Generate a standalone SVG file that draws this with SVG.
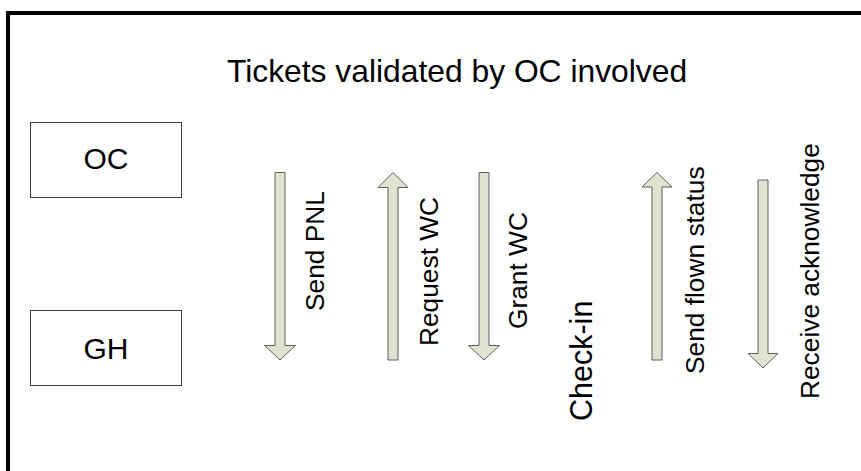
<svg xmlns="http://www.w3.org/2000/svg" width="861" height="471" viewBox="0 0 861 471">
<style>
text{font-family:"Liberation Sans",Arial,sans-serif;fill:#000}
.box{fill:#fff;stroke:#404040;stroke-width:1}
.arr{fill:#dfe3cf;stroke:#5f5f5f;stroke-width:1}
.lbl{font-size:26.3px}
.node{font-size:30px;text-anchor:middle}
</style>
<rect width="861" height="471" fill="#fff"/>
<path d="M8,471 V13 H861" fill="none" stroke="#000" stroke-width="4"/>
<text id="title" x="227" y="82" font-size="31.8">Tickets validated by OC involved</text>
<g id="OC"><rect class="box" x="30.5" y="122.5" width="151" height="75"/><text class="node" x="106" y="169">OC</text></g>
<g id="GH"><rect class="box" x="30.5" y="310.5" width="151" height="75"/><text class="node" x="106" y="359">GH</text></g>
<g id="connectors">
<g id="send-pnl"><path class="arr" d="M275,172.5 H285 V345.5 H295.5 L280,360 L264.5,345.5 H275 Z"/><text class="lbl" transform="translate(324,311) rotate(-90)">Send PNL</text></g>
<g id="request-wc"><path class="arr" d="M388,360 H398 V187.5 H408 L393,172.5 L378,187.5 H388 Z"/><text class="lbl" transform="translate(438,346) rotate(-90)">Request WC</text></g>
<g id="grant-wc"><path class="arr" d="M479,172.5 H489 V345.5 H499.5 L484,360 L468.5,345.5 H479 Z"/><text class="lbl" transform="translate(527,329) rotate(-90)">Grant WC</text></g>
<g id="send-flown"><path class="arr" d="M652,360 H662 V187 H672 L657,172.5 L642,187 H652 Z"/><text class="lbl" transform="translate(704,374) rotate(-90)">Send flown status</text></g>
<g id="receive-ack"><path class="arr" d="M758,180 H768 V353.5 H778 L763,368 L748,353.5 H758 Z"/><text class="lbl" transform="translate(819,399) rotate(-90)">Receive acknowledge</text></g>
</g>
<text id="checkin" transform="translate(592,421) rotate(-90)" font-size="30.5">Check-in</text>
</svg>
